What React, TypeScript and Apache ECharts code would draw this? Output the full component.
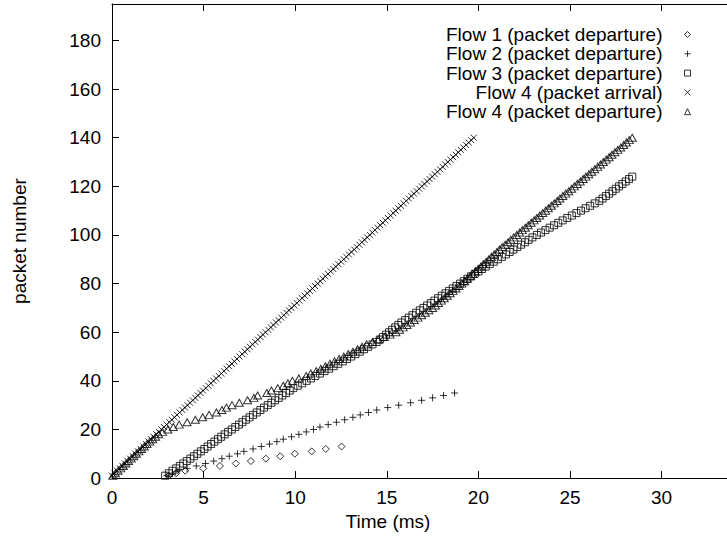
import React, { useEffect, useRef } from "react";
import * as echarts from "echarts";

// Packet departure / arrival times (ms); packet number = index + 1
const flow1Time = [3.1, 3.5, 4.0, 4.98, 5.89, 6.76, 7.58, 8.4, 9.18, 9.98, 10.9, 11.67, 12.53];

const flow2Time = [3.0, 3.3, 3.6, 4.1, 4.6, 5.1, 5.55, 6.0, 6.4, 6.85, 7.2, 7.7, 8.15, 8.6, 9.0, 9.35,
  9.8, 10.2, 10.6, 11.0, 11.35, 11.8, 12.25, 12.7, 13.15, 13.55, 14.0, 14.45, 15.05, 15.65, 16.3, 16.9,
  17.5, 18.1, 18.7];

const flow3Time = [2.9, 3.1, 3.3, 3.5, 3.7, 3.89, 4.08, 4.28, 4.47, 4.66, 4.85, 5.04, 5.22, 5.41, 5.59,
  5.78, 5.96, 6.15, 6.34, 6.54, 6.73, 6.93, 7.12, 7.31, 7.51, 7.7, 7.9, 8.1, 8.3, 8.5, 8.7, 8.9, 9.1,
  9.3, 9.5, 9.7, 9.9, 10.14, 10.38, 10.62, 10.86, 11.1, 11.35, 11.6, 11.85, 12.1, 12.35, 12.6, 12.83,
  13.06, 13.29, 13.53, 13.76, 13.99, 14.22, 14.45, 14.62, 14.79, 14.96, 15.13, 15.29, 15.46, 15.63,
  15.8, 16.0, 16.2, 16.4, 16.6, 16.8, 17.0, 17.2, 17.4, 17.6, 17.8, 18.0, 18.2, 18.4, 18.6, 18.8, 19.0,
  19.2, 19.4, 19.6, 19.8, 20.0, 20.2, 20.4, 20.62, 20.84, 21.06, 21.28, 21.5, 21.71, 21.91, 22.12,
  22.33, 22.54, 22.74, 22.95, 23.19, 23.42, 23.66, 23.89, 24.13, 24.36, 24.6, 24.85, 25.1, 25.35,
  25.6, 25.85, 26.1, 26.35, 26.6, 26.78, 26.96, 27.14, 27.32, 27.5, 27.68, 27.86, 28.04, 28.22, 28.4];

const flow4ArrivalTime = [0.0, 0.14, 0.28, 0.43, 0.57, 0.71, 0.85, 0.99, 1.14, 1.28, 1.42, 1.56, 1.71,
  1.85, 1.99, 2.13, 2.27, 2.42, 2.56, 2.7, 2.84, 2.98, 3.13, 3.27, 3.41, 3.55, 3.69, 3.84, 3.98, 4.12,
  4.26, 4.41, 4.55, 4.69, 4.83, 4.97, 5.12, 5.26, 5.4, 5.54, 5.68, 5.83, 5.97, 6.11, 6.25, 6.39, 6.54,
  6.68, 6.82, 6.96, 7.11, 7.25, 7.39, 7.53, 7.67, 7.82, 7.96, 8.1, 8.24, 8.38, 8.53, 8.67, 8.81, 8.95,
  9.09, 9.24, 9.38, 9.52, 9.66, 9.8, 9.95, 10.09, 10.23, 10.37, 10.52, 10.66, 10.8, 10.94, 11.08,
  11.23, 11.37, 11.51, 11.65, 11.79, 11.94, 12.08, 12.22, 12.36, 12.51, 12.65, 12.79, 12.93, 13.07,
  13.22, 13.36, 13.5, 13.64, 13.78, 13.93, 14.07, 14.21, 14.35, 14.49, 14.64, 14.78, 14.92, 15.06,
  15.21, 15.35, 15.49, 15.63, 15.77, 15.92, 16.06, 16.2, 16.34, 16.48, 16.63, 16.77, 16.91, 17.05,
  17.2, 17.34, 17.48, 17.62, 17.76, 17.91, 18.05, 18.19, 18.33, 18.47, 18.62, 18.76, 18.9, 19.04,
  19.18, 19.33, 19.47, 19.61, 19.75];

const flow4DepartureTime = [0.05, 0.19, 0.33, 0.48, 0.62, 0.76, 0.9, 1.05, 1.19, 1.33, 1.47, 1.62, 1.76,
  1.91, 2.06, 2.22, 2.38, 2.55, 2.76, 3.05, 3.35, 3.67, 4.1, 4.55, 4.95, 5.3, 5.7, 6.0, 6.25, 6.55,
  6.95, 7.4, 7.75, 7.95, 8.45, 8.7, 9.05, 9.35, 9.6, 9.85, 10.2, 10.6, 10.85, 11.15, 11.4, 11.65,
  11.9, 12.15, 12.4, 12.65, 12.9, 13.15, 13.4, 13.65, 13.9, 14.22, 14.54, 14.86, 15.18, 15.5, 15.7,
  15.9, 16.1, 16.3, 16.5, 16.7, 16.9, 17.1, 17.3, 17.5, 17.66, 17.82, 17.98, 18.14, 18.3, 18.46,
  18.62, 18.78, 18.94, 19.1, 19.25, 19.39, 19.54, 19.69, 19.83, 19.98, 20.13, 20.27, 20.42, 20.57,
  20.71, 20.86, 21.01, 21.15, 21.3, 21.46, 21.62, 21.77, 21.93, 22.09, 22.25, 22.4, 22.56, 22.72,
  22.88, 23.04, 23.19, 23.35, 23.51, 23.67, 23.82, 23.98, 24.14, 24.3, 24.45, 24.61, 24.77, 24.93,
  25.09, 25.24, 25.4, 25.56, 25.72, 25.87, 26.03, 26.19, 26.35, 26.51, 26.66, 26.82, 26.98, 27.14,
  27.29, 27.45, 27.61, 27.77, 27.93, 28.08, 28.24, 28.4];

const seriesNames = [
  "Flow 1 (packet departure)",
  "Flow 2 (packet departure)",
  "Flow 3 (packet departure)",
  "Flow 4 (packet arrival)",
  "Flow 4 (packet departure)",
];

const xTickInterval = 5;
const yTickInterval = 20;

const FONT = "'Liberation Sans', Arial, Helvetica, sans-serif";
const FS = 19;
const PLUS = "path://M0,5L10,5M5,0L5,10";
const CROSS = "path://M0,0L10,10M10,0L0,10";

const toPoints = (times: number[]) => times.map((t, i) => [t, i + 1]);

const markerStyle = { color: "rgba(0,0,0,0)", borderColor: "#000", borderWidth: 1 };

export default function App() {
  const ref = useRef<HTMLDivElement>(null);
  useEffect(() => {
    if (!ref.current) return;
    const chart = echarts.init(ref.current, undefined, { renderer: "svg" });
    const series = [
      { times: flow1Time, symbol: "diamond", size: 7 },
      { times: flow2Time, symbol: PLUS, size: 7 },
      { times: flow3Time, symbol: "rect", size: 7 },
      { times: flow4ArrivalTime, symbol: CROSS, size: 6 },
      { times: flow4DepartureTime, symbol: "triangle", size: [8, 7] },
    ].map((s, i) => ({
      type: "scatter",
      name: seriesNames[i],
      data: toPoints(s.times),
      symbol: s.symbol,
      symbolSize: s.size,
      color: "#000",
      itemStyle: markerStyle,
      emphasis: { disabled: true },
    }));

    const axisCommon = {
      type: "value",
      axisLine: { show: true, lineStyle: { color: "#000", width: 1 } },
      axisTick: { show: true, inside: true, length: 7, lineStyle: { color: "#000" } },
      splitLine: { show: false },
    };

    chart.setOption({
      animation: false,
      backgroundColor: "#fff",
      textStyle: { fontFamily: FONT },
      grid: { left: 112, right: 0, top: 4, bottom: 53, containLabel: false },
      legend: {
        orient: "vertical",
        right: 31,
        top: 20,
        align: "right",
        itemWidth: 6,
        itemHeight: 6,
        itemGap: 0.3,
        selectedMode: false,
        itemStyle: { borderWidth: 1, borderColor: "#000", color: "rgba(0,0,0,0)" },
        textStyle: { fontSize: FS, color: "#000", fontFamily: FONT, lineHeight: 19, padding: [0, 17, 0, 0] },
        data: seriesNames,
      },
      xAxis: [
        {
          ...axisCommon,
          position: "bottom",
          min: 0,
          max: 33.57,
          interval: xTickInterval,
          name: "Time (ms)",
          nameLocation: "middle",
          nameGap: 27,
          nameTextStyle: { fontSize: FS, color: "#000", fontFamily: FONT, padding: [0, 63, 0, 0] },
          axisLabel: { fontSize: FS, color: "#000", margin: 10, showMaxLabel: false, fontFamily: FONT },
        },
        {
          ...axisCommon,
          position: "top",
          min: 0,
          max: 33.57,
          interval: xTickInterval,
          axisLabel: { show: false },
        },
      ],
      yAxis: {
        ...axisCommon,
        min: 0,
        max: 195,
        interval: yTickInterval,
        name: "packet number",
        nameLocation: "middle",
        nameGap: 83,
        nameTextStyle: { fontSize: FS, color: "#000", fontFamily: FONT },
        axisLabel: { fontSize: FS, color: "#000", margin: 11, showMaxLabel: false, fontFamily: FONT },
      },
      series,
    });
    return () => chart.dispose();
  }, []);
  return (
    <div
      ref={ref}
      style={{ position: "absolute", left: 0, top: 0, width: 727, height: 536 }}
    />
  );
}
